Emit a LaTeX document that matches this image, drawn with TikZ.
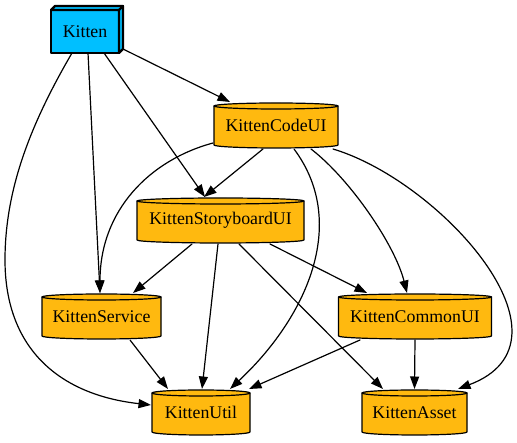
\documentclass[tikz,border=0pt]{standalone}
\usepackage{fontspec}
\setmainfont{Liberation Serif}
\usepackage{tikz}
\usetikzlibrary{arrows}
\usetikzlibrary{arrows.meta}
\definecolor{kittenblue}{HTML}{00BFFF}
\definecolor{podgold}{HTML}{FFB90F}
\tikzset{
  podfont/.style={font=\fontsize{17.8pt}{20pt}\selectfont},
  kittenbox/.style={rectangle, draw, line width=2.2pt, fill=kittenblue,
    minimum width=68, minimum height=43, inner sep=0pt, outer sep=0pt, podfont},
  pod/.style={rectangle, minimum width={#1+2}, minimum height=47,
    inner sep=0pt, outer sep=0pt, podfont,
    path picture={
      \draw[line width=1.2pt, fill=podgold]
        ([xshift=1pt,yshift=-4pt]path picture bounding box.north west)
        -- ([xshift=1pt,yshift=4pt]path picture bounding box.south west)
        arc[start angle=180, end angle=360, x radius={#1/2}, y radius=3]
        -- ([xshift=-1pt,yshift=-4pt]path picture bounding box.north east)
        arc[start angle=0, end angle=180, x radius={#1/2}, y radius=3] -- cycle;
      \draw[line width=1.2pt]
        ([xshift=1pt,yshift=-4pt]path picture bounding box.north west)
        arc[start angle=180, end angle=360, x radius={#1/2}, y radius=3];
    }},
  dep/.style={line width=1.2pt, ->},
}
\begin{document}
\begin{tikzpicture}[line cap=round,line join=round,>={Triangle[length=12.5pt,width=9pt]},x=1pt,y=1pt]
\useasboundingbox (0,0) rectangle (517,443);
% packages
\node[kittenbox] (kitten) at (85,411.5) {Kitten};
\draw [line width=2.2pt, fill=kittenblue] (kitten.north west) -- ++(4,4) -- ([xshift=4,yshift=4]kitten.north east) -- ([xshift=4,yshift=4]kitten.south east) -- (kitten.south east) -- (kitten.north east) -- cycle;
\draw [line width=2.2pt] (kitten.north east) -- ++(4,4);
\node[pod=124] (codeui) at (276,317.5) {KittenCodeUI};
\node[pod=167] (story) at (220.5,222.5) {KittenStoryboardUI};
\node[pod=119] (service) at (101.5,126.5) {KittenService};
\node[pod=153] (common) at (415,126.5) {KittenCommonUI};
\node[pod=98] (util) at (201,30.5) {KittenUtil};
\node[pod=105] (asset) at (414.5,30.5) {KittenAsset};
% dependencies
\draw [dep] ([xshift=4,yshift=4]kitten.south east) -- ([xshift=-46]codeui.north);
\draw [dep] ([xshift=19]kitten.south) -- ([xshift=-15.5]story.north);
\draw [dep] ([xshift=3]kitten.south) -- ([xshift=-1.5]service.north);
\draw [dep] ([xshift=-13]kitten.south) .. controls +(-42,-72) and +(0,70) .. (5,183) .. controls +(0,-90) and +(-90,10) .. ([yshift=7.5]util.west);
\draw [dep] ([xshift=-13]codeui.south) -- ([xshift=-16.5]story.north);
\draw [dep] ([yshift=-17.5]codeui.west) .. controls +(-63,-17) and +(0,83) .. ([xshift=-1.5]service.north);
\draw [dep] ([xshift=18]codeui.south) .. controls +(56,-75) and +(75,70) .. ([xshift=29]util.north);
\draw [dep] ([xshift=35]codeui.south) .. controls +(39,-30) and +(-12,48) .. ([xshift=-8]common.north);
\draw [dep] ([xshift=-6]codeui.south east) .. controls +(107,-32) and +(127,48) .. ([xshift=-10]asset.north east);
\draw [dep] ([xshift=-28.5]story.south) -- ([xshift=31.5]service.north);
\draw [dep] ([xshift=-2.5]story.south) -- ([xshift=1]util.north);
\draw [dep] ([xshift=49.5]story.south) -- ([xshift=-48]common.north);
\draw [dep] ([xshift=18.5]story.south) -- ([xshift=-31.5]asset.north);
\draw [dep] ([xshift=28.5]service.south) -- ([xshift=-33]util.north);
\draw [dep] ([xshift=-55]common.south) -- ([xshift=-2]util.north east);
\draw [dep] (common.south) -- (asset.north);
\end{tikzpicture}
\end{document}
